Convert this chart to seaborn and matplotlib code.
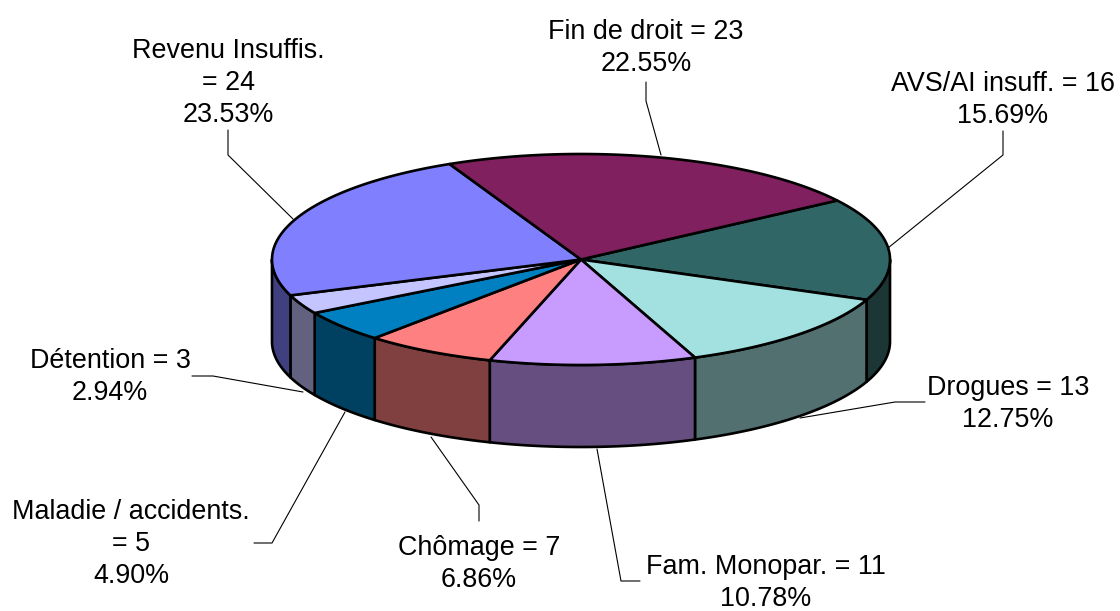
import numpy as np
import matplotlib.pyplot as plt
from matplotlib.patches import Polygon
import seaborn as sns

# going clockwise from the back right edge of the pie
names = ['AVS/AI insuff. = ', 'Drogues = ', 'Fam. Monopar. = ', 'Chômage = ',
         'Maladie / accidents.\n= ', 'Détention = ', 'Revenu Insuffis.\n= ', 'Fin de droit = ']
values = [16, 13, 11, 7, 5, 3, 24, 23]
top_colors = ['#316666', '#A3E0E0', '#C89BFF', '#FF8080', '#0080C0', '#C4C4FF', '#8080FF', '#80205F']
side_colors = ['#1C3636', '#527070', '#664F80', '#804040', '#004060', '#626280', '#404080', '#401030']

# label centres and leader lines, in pixels
label_pos = [(1003, 100), (1008, 404), (766, 583), (479, 564), (131, 544), (110, 377), (228, 83), (646, 48)]
leaders = [[(1003, 131), (1003, 155), (888, 248)],
           [(925, 402), (895, 402), (800, 418)],
           [(640, 581), (621, 581), (597, 449)],
           [(479, 521), (479, 505), (431, 437)],
           [(254, 543), (272, 543), (345, 412)],
           [(192, 376), (213, 376), (303, 392)],
           [(228, 130), (228, 155), (293, 219)],
           [(646, 82), (646, 101), (661, 155)]]

cx, cy = 581, 259.5
rx, ry = 309, 105.5
depth = 82
start = 34.0


def ellipse(a, dy=0):
    a = np.radians(a)
    return np.column_stack([cx + rx * np.cos(a), cy + dy + ry * np.sin(-a)])


sns.set_theme(style='white')
plt.rcParams['font.family'] = ['Liberation Sans', 'DejaVu Sans']

fig, ax = plt.subplots(figsize=(11.2, 6.11), dpi=100)
ax.set_position([0, 0, 1, 1])
ax.set_xlim(0, 1120)
ax.set_ylim(611, 0)
ax.axis('off')

total = sum(values)
edges = start - np.cumsum([0] + values) * 360 / total
lw = 1.9

# sides first, only the front half of the pie shows them
for i in range(len(values)):
    a0, a1 = edges[i], edges[i + 1]
    lo = max(a1, -180)
    hi = min(a0, 0)
    if lo < hi:
        arc = np.linspace(hi, lo, 80)
        pts = np.vstack([ellipse(arc), ellipse(arc[::-1], depth)])
        ax.add_patch(Polygon(pts, closed=True, fc=side_colors[i], ec='black', lw=lw, joinstyle='round'))

for i in range(len(values)):
    arc = np.linspace(edges[i], edges[i + 1], 120)
    pts = np.vstack([[(cx, cy)], ellipse(arc)])
    ax.add_patch(Polygon(pts, closed=True, fc=top_colors[i], ec='black', lw=lw, joinstyle='round'))

for i in range(len(values)):
    line = np.array(leaders[i])
    ax.plot(line[:, 0], line[:, 1], color='black', lw=0.8, zorder=0.5)
    pct = values[i] / total * 100
    ax.text(label_pos[i][0], label_pos[i][1], f'{names[i]}{values[i]}\n{pct:.2f}%',
            ha='center', va='center', fontsize=19.4, color='black', linespacing=1.32)

plt.savefig('out.png', dpi=100)
plt.close()
